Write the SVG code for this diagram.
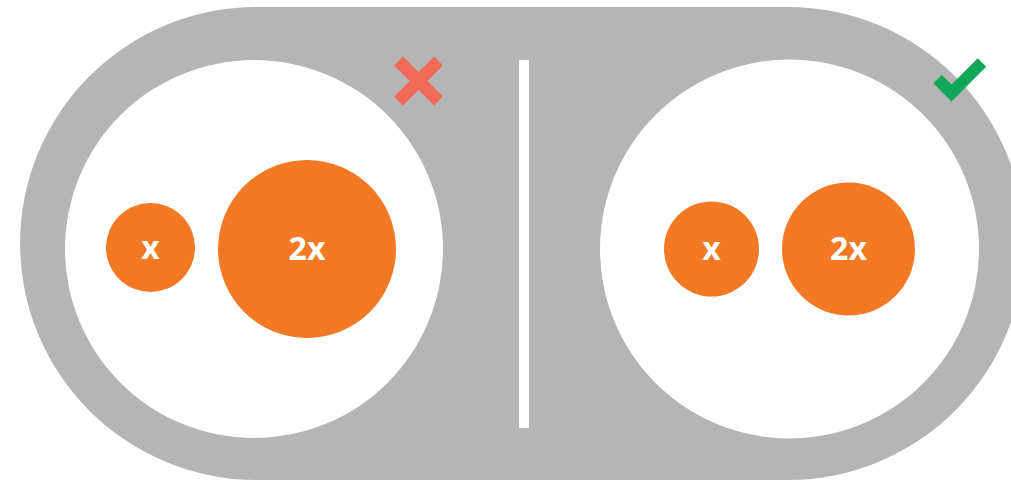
<svg xmlns="http://www.w3.org/2000/svg" width="1011" height="481" viewBox="0 0 1011 481">
  <style>
    .bg { fill: #b5b5b5; }
    .panel { fill: #ffffff; }
    .dot { fill: #f47924; }
    .lbl { fill: #ffffff; font-family: "Open Sans", "Liberation Sans", sans-serif; font-weight: 700; font-size: 32px; text-anchor: middle; }
  </style>
  <rect width="1011" height="481" fill="#ffffff"/>
  <path class="bg" d="M 256.5 7 H 788 A 236.5 236.5 0 0 1 788 480 H 256.5 A 236.5 236.5 0 0 1 256.5 7 Z"/>
  <rect x="519" y="60" width="10" height="368" fill="#ffffff"/>

  <g id="wrong-panel">
    <circle class="panel" cx="254" cy="249" r="189"/>
    <path d="M 398.5 61 L 438.5 101 M 438.5 61 L 398.5 101" stroke="#f26a5a" stroke-width="12.5" fill="none"/>
  </g>
  <g id="wrong-x">
    <circle class="dot" cx="150.5" cy="247.5" r="44.5"/>
    <text class="lbl" x="150.5" y="259">x</text>
  </g>
  <g id="wrong-2x">
    <circle class="dot" cx="307" cy="249" r="89"/>
    <text class="lbl" x="307" y="260">2x</text>
  </g>

  <g id="right-panel">
    <circle class="panel" cx="789.5" cy="249" r="189.5"/>
    <path d="M 937.5 79 L 951.5 93 L 982 62.5" stroke="#12a65a" stroke-width="12" fill="none" stroke-linejoin="miter"/>
  </g>
  <g id="right-x">
    <circle class="dot" cx="711.5" cy="249" r="47.5"/>
    <text class="lbl" x="711.5" y="260">x</text>
  </g>
  <g id="right-2x">
    <circle class="dot" cx="848.5" cy="249" r="66.5"/>
    <text class="lbl" x="848.5" y="260">2x</text>
  </g>
  <g id="connectors"></g>
</svg>
